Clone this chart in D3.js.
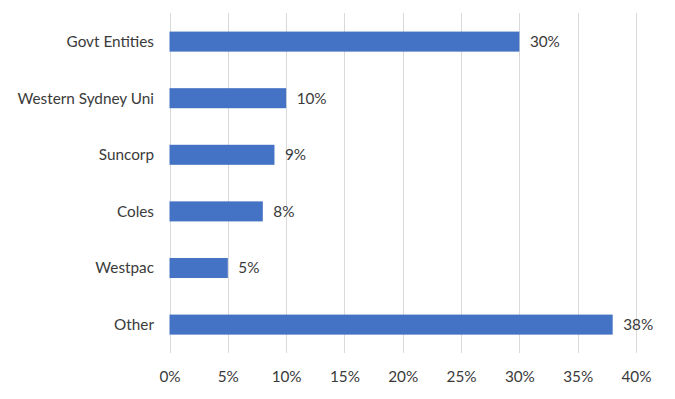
<!DOCTYPE html>
<html><head><meta charset="utf-8">
<script src="https://cdn.jsdelivr.net/npm/d3@7"></script>
<style>html,body{margin:0;padding:0;background:#fff;}svg{display:block;}</style>
</head><body>
<svg id="chart" width="675" height="399"></svg>
<script>
const categories = ["Govt Entities","Western Sydney Uni","Suncorp","Coles","Westpac","Other"];
const values = [30,10,9,8,5,38];
const tickValues = [0,5,10,15,20,25,30,35,40];

const svg = d3.select("#chart");
const font = "Lato, 'Open Sans', sans-serif";
const fs = 15.3;
const textColor = "#3a3a3a";
const x = d3.scaleLinear().domain([0,40]).range([169.5,636]);
const y = d3.scaleBand().domain(categories).range([13.3,352.9]).paddingInner(0.646).paddingOuter(0.323);

// gridlines
svg.append("g").selectAll("line").data(tickValues).join("line")
  .attr("x1", d => Math.round(x(d))+0.5).attr("x2", d => Math.round(x(d))+0.5)
  .attr("y1", 13).attr("y2", 353)
  .attr("stroke", "#d9d9d9").attr("stroke-width", 1);

// bars
svg.append("g").selectAll("rect").data(categories).join("rect")
  .attr("x", x(0)).attr("y", d => y(d))
  .attr("width", (d,i) => x(values[i]) - x(0))
  .attr("height", y.bandwidth())
  .attr("fill", "#4472C4");

// value labels
svg.append("g").selectAll("text").data(categories).join("text")
  .attr("x", (d,i) => x(values[i]) + 10.5)
  .attr("y", d => y(d) + y.bandwidth()/2)
  .attr("dy", "0.35em")
  .attr("font-family", font).attr("font-size", fs).attr("fill", textColor)
  .text((d,i) => values[i] + "%");

// category axis labels
svg.append("g").selectAll("text").data(categories).join("text")
  .attr("x", 154).attr("y", d => y(d) + y.bandwidth()/2)
  .attr("dy", "0.35em").attr("text-anchor", "end")
  .attr("font-family", font).attr("font-size", fs).attr("fill", textColor)
  .text(d => d);

// x axis
const xAxis = d3.axisBottom(x).tickValues(tickValues).tickSize(0).tickPadding(0).tickFormat(d => d + "%");
const ax = svg.append("g").attr("transform", "translate(0,376.5)").call(xAxis);
ax.select(".domain").remove();
ax.selectAll("text").attr("dy", "0.35em").attr("font-family", font).attr("font-size", fs).attr("fill", textColor);
</script>
</body></html>
